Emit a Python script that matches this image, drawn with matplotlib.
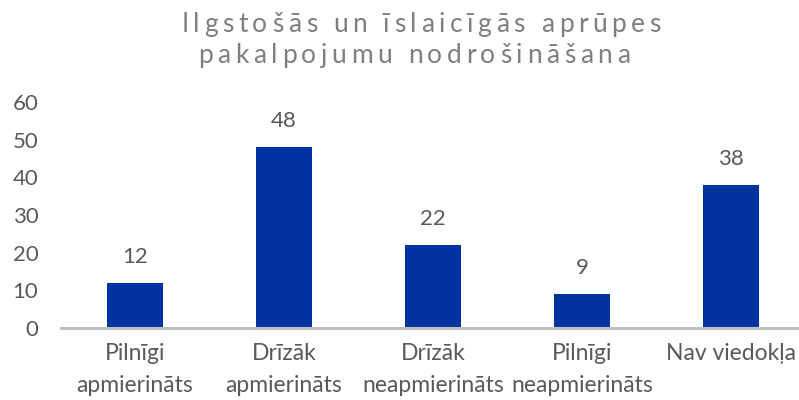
import numpy as np
import matplotlib as mpl
import matplotlib.pyplot as plt
from matplotlib.font_manager import FontProperties, findfont, get_font


CATEGORIES = ["Pilnīgi\napmierināts", "Drīzāk\napmierināts", "Drīzāk\nneapmierināts",
              "Pilnīgi\nneapmierināts", "Nav viedokļa"]
VALUES = [12, 48, 22, 9, 38]
Y_TICKS = [0, 10, 20, 30, 40, 50, 60]
TITLE_LINES = ["Ilgstošās un īslaicīgās aprūpes", "pakalpojumu nodrošināšana"]

COLORS = {
    "bar": "#0033A0",
    "axis": "#BFBFBF",
    "text": "#595959",
    "title": "#7F7F7F",
}

W, H, DPI = 799, 400, 100


def apply_style():
    mpl.rcParams.update(
        {
            "font.family": ["Lato", "DejaVu Sans"],
            "font.size": 16,
            "text.color": COLORS["text"],
            "xtick.color": COLORS["text"],
            "ytick.color": COLORS["text"],
        }
    )


def tracked_text(fig, text, cx_px, base_px, size, track_px, color, weight="normal"):
    # matplotlib has no letter-spacing, so place the glyphs one by one
    prop = FontProperties(family="Lato", size=size, weight=weight)
    font = get_font(findfont(prop))
    font.set_size(size, DPI)
    adv = [font.load_char(ord(ch)).linearHoriAdvance / 65536 for ch in text]
    total = sum(adv) + track_px * (len(text) - 1)
    x = cx_px - total / 2
    for ch, a in zip(text, adv):
        fig.text(x / W, 1 - base_px / H, ch, fontproperties=prop, color=color,
                 ha="left", va="baseline")
        x += a + track_px


def main():
    apply_style()
    fig = plt.figure(figsize=(W / DPI, H / DPI), dpi=DPI)
    ax = fig.add_axes([60.5 / W, 0.18, 745 / W, 0.565])

    x = np.arange(len(CATEGORIES))
    ax.bar(x, VALUES, width=0.376, color=COLORS["bar"], zorder=2)
    for xi, v in zip(x, VALUES):
        ax.annotate(str(v), (xi, v), xytext=(0, 14.5), textcoords="offset points",
                    ha="center", va="baseline", fontsize=16, color=COLORS["text"])

    ax.set_xlim(-0.5, len(CATEGORIES) - 0.5)
    ax.set_ylim(0, 60)
    ax.set_yticks(Y_TICKS)
    ax.set_xticks(x, CATEGORIES, linespacing=1.65, fontsize=16.5)
    ax.tick_params(axis="x", length=0, pad=11)
    ax.tick_params(axis="y", length=0, pad=16)
    for s in ("top", "right", "left"):
        ax.spines[s].set_visible(False)
    ax.spines["bottom"].set_color(COLORS["axis"])
    ax.spines["bottom"].set_linewidth(2.2)
    ax.spines["bottom"].set_zorder(3)

    tracked_text(fig, TITLE_LINES[0], 421, 32, 19, 4.6, COLORS["title"])
    tracked_text(fig, TITLE_LINES[1], 414, 63, 19, 4.6, COLORS["title"])

    fig.savefig("out.png", dpi=DPI)
    plt.close(fig)


if __name__ == "__main__":
    main()
